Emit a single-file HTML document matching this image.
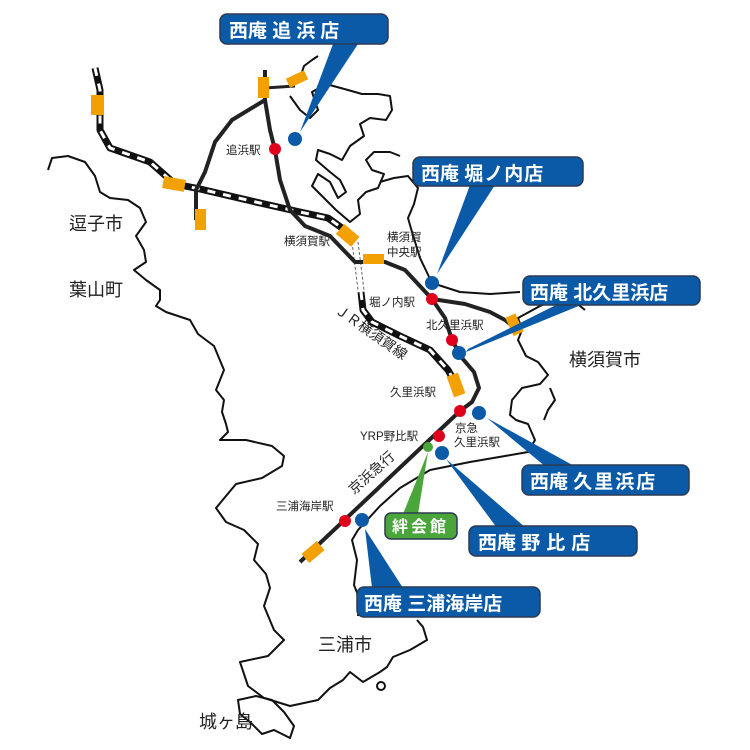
<!DOCTYPE html>
<html><head><meta charset="utf-8"><style>
html,body{margin:0;padding:0;background:#fff;}
svg{display:block;}
text{font-family:"Liberation Sans","Noto Sans CJK JP",sans-serif;}
.s{font-size:11.5px;fill:#222;}
.c{font-size:18px;fill:#222;}
.w{font-size:19px;font-weight:bold;fill:#fff;}
</style></head><body>
<svg width="750" height="750" viewBox="0 0 750 750" xmlns="http://www.w3.org/2000/svg">
<g fill="none" stroke="#111" stroke-width="2" stroke-linejoin="round">
<path d="M48,170 L52,158 L68,156 L85,162 L95,176 L100,192 L110,198 L128,200 L140,208 L146,222 L136,236 L144,250 L146,262 L134,270 L146,280 L160,290 L160,300 L156,306 L166,312 L190,320 L198,334 L214,346 L224,370 L216,390 L224,400 L222,412 L226,424 L228,432 L220,440 L246,440 L272,446 L284,456 L282,466 L262,478 L236,484 L226,496 L216,508 L226,522 L244,530 L258,544 L254,560 L266,574 L270,588 L264,606 L274,630 L284,640 L268,656 L240,662 L248,686 L264,698 L290,706 L318,700 L330,688 L343,680 L350,672 L363,682 L380,672 L387,667 L393,657 L410,650 L427,640 L423,627 L417,620"/>
<path d="M238,700 L256,696 L272,700 L284,712 L294,726 L290,738 L274,730 L262,734 L250,722 L240,714 Z"/>
<circle cx="381" cy="686" r="4"/>
<path d="M358,616 L360,600 L354,585 L357,560 L352,540 L358,530 L380,506 L400,488 L430,470 L470,462 L505,456 L528,452 L535,440 L528,424 L516,420 L510,415 L512,400 L522,388 L540,384 L548,375 L538,362 L526,356 L518,340 L522,330 L518,318 L540,306 L556,300 L575,302 L585,310"/>
<path d="M544,420 L548,410 L555,400 L550,388"/>
<path d="M290,96 L300,110 L310,118 L318,110 L312,92 L326,84 L348,90 L362,94 L378,94 L390,96 L392,110 L386,120 L370,118 L360,124 L364,136 L350,146 L342,160 L330,154 L318,150 L316,160 L330,172 L340,180 L346,192 L338,198 L330,182 L318,174 L312,186 L326,200 L336,210 L350,222 L360,214 L358,200 L366,192 L378,188 L384,174 L372,170 L366,160 L374,152 L390,152 L400,156"/>
<path d="M380,182 L394,178 L408,176 L418,188 L414,204 L408,218 L412,232 L420,258 L432,283 L460,292 L490,294 L520,292"/>
<path d="M300,78 L304,66 L312,60 L318,56"/>
</g>
<g fill="none" stroke-linejoin="round" stroke-linecap="butt">
<path id="jr" d="M95,68 L100,90 L100,130 L110,148 L150,162 L175,184 L200,189 L260,203 L300,212 L328,218 L342,228 L350,238"/>
<use href="#jr" stroke="#111" stroke-width="7"/>
<use href="#jr" stroke="#fff" stroke-width="3" stroke-dasharray="8 8"/>
<path id="jr2" d="M361,292 L363,310 L372,322 L400,336 L430,350 L448,370 L456,384"/>
<use href="#jr2" stroke="#111" stroke-width="7"/>
<use href="#jr2" stroke="#fff" stroke-width="3" stroke-dasharray="8 8"/>
<path d="M352,242 L358,290 M358,242 L364,290" stroke="#666" stroke-width="1" stroke-dasharray="3 2"/>
<path d="M265,70 L265,100 L270,130 L275,150 L280,180 L290,210 L305,226 L330,236 L355,262 L385,262 L405,270 L432,299 L445,318 L452,340 L462,358 L474,372 L479,388 L472,402 L460,411 L300,562" stroke="#222" stroke-width="4"/>
<path d="M265,100 L232,120 L215,142 L205,172 L196,190 L196,220" stroke="#222" stroke-width="4"/>
<path d="M265,88 L295,86" stroke="#222" stroke-width="3"/>
<path d="M432,299 L465,304 L490,312 L505,320 L515,328" stroke="#222" stroke-width="4"/>
</g>
<g fill="#f2a100">
<rect x="91" y="95" width="13" height="20"/>
<rect x="163" y="178" width="22" height="12" transform="rotate(10 174 184)"/>
<rect x="195" y="209" width="11" height="21"/>
<rect x="258" y="77" width="11" height="21"/>
<rect x="287" y="74" width="20" height="10" transform="rotate(-25 297 79)"/>
<rect x="338" y="229" width="20" height="13" transform="rotate(40 348 235)"/>
<rect x="363" y="254" width="21" height="10"/>
<rect x="509" y="315" width="11" height="20" transform="rotate(-25 514 325)"/>
<rect x="450" y="374" width="12" height="22" transform="rotate(-20 456 385)"/>
<rect x="303" y="546" width="20" height="12" transform="rotate(-40 313 552)"/>
</g>
<g fill="#0b5aa8">
<path d="M333,44 L358,44 L300,132 Z"/>
<path d="M470,185 L495,185 L437,274 Z"/>
<path d="M560,303 L586,303 L466,352 L468,349 Z"/>
<path d="M546,467 L576,467 L487,418 Z"/>
<path d="M497,528 L526,528 L446,459 Z"/>
<path d="M372,588 L403,588 L365,529 Z"/>
<path d="M403,514 L418,514 L428,452 Z" fill="#4aa63a"/>
</g>
<g stroke="#2a3a52" stroke-width="1.5">
<rect x="220" y="14" width="168" height="30" rx="7" fill="#0b5aa8"/>
<rect x="413" y="157" width="170" height="29" rx="7" fill="#0b5aa8"/>
<rect x="523" y="276" width="177" height="29" rx="7" fill="#0b5aa8"/>
<rect x="522" y="465" width="167" height="30" rx="7" fill="#0b5aa8"/>
<rect x="469" y="526" width="168" height="30" rx="7" fill="#0b5aa8"/>
<rect x="357" y="587" width="183" height="30" rx="7" fill="#0b5aa8"/>
<rect x="385" y="513" width="72" height="26" rx="6" fill="#4aa63a"/>
</g>
<g class="w">
<text x="229" y="37">西庵 <tspan letter-spacing="5">追浜店</tspan></text>
<text x="421" y="180">西庵 <tspan letter-spacing="1">堀ノ内店</tspan></text>
<text x="530" y="299">西庵 北久里浜店</text>
<text x="530" y="488">西庵 <tspan letter-spacing="2">久里浜店</tspan></text>
<text x="478" y="549">西庵 <tspan letter-spacing="6">野比店</tspan></text>
<text x="364" y="610">西庵 三浦海岸店</text>
<text x="392" y="532" font-size="16" letter-spacing="3">絆会館</text>
</g>
<g fill="#e1001c">
<circle cx="275" cy="149" r="6"/><circle cx="432" cy="299" r="6"/><circle cx="452" cy="340" r="6"/>
<circle cx="460" cy="411" r="6"/><circle cx="439" cy="436" r="6"/><circle cx="345" cy="521" r="6"/>
</g>
<g fill="#0b5aa8">
<circle cx="295" cy="139" r="7"/><circle cx="432" cy="283" r="7"/><circle cx="459" cy="353" r="7"/>
<circle cx="479" cy="413" r="7"/><circle cx="442" cy="453" r="7"/><circle cx="362" cy="520" r="7"/>
</g>
<circle cx="428" cy="447" r="5" fill="#4aa63a"/>
<g class="s">
<text x="226" y="154">追浜駅</text>
<text x="284" y="245">横須賀駅</text>
<text x="387" y="241">横須賀</text>
<text x="387" y="256">中央駅</text>
<text x="369" y="306">堀ノ内駅</text>
<text x="426" y="329">北久里浜駅</text>
<text x="390" y="396">久里浜駅</text>
<text x="360" y="440">YRP野比駅</text>
<text x="455" y="432">京急</text>
<text x="454" y="446">久里浜駅</text>
<text x="276" y="510">三浦海岸駅</text>
<text x="0" y="0" font-size="14" transform="translate(334,312) rotate(35)">ＪＲ横須賀線</text>
<text x="0" y="0" font-size="14" transform="translate(354,495) rotate(-42)">京浜急行</text>
</g>
<g class="c">
<text x="69" y="230">逗子市</text>
<text x="69" y="296">葉山町</text>
<text x="569" y="366">横須賀市</text>
<text x="318" y="651">三浦市</text>
<text x="199" y="728">城ヶ島</text>
</g>
</svg>
</body></html>
